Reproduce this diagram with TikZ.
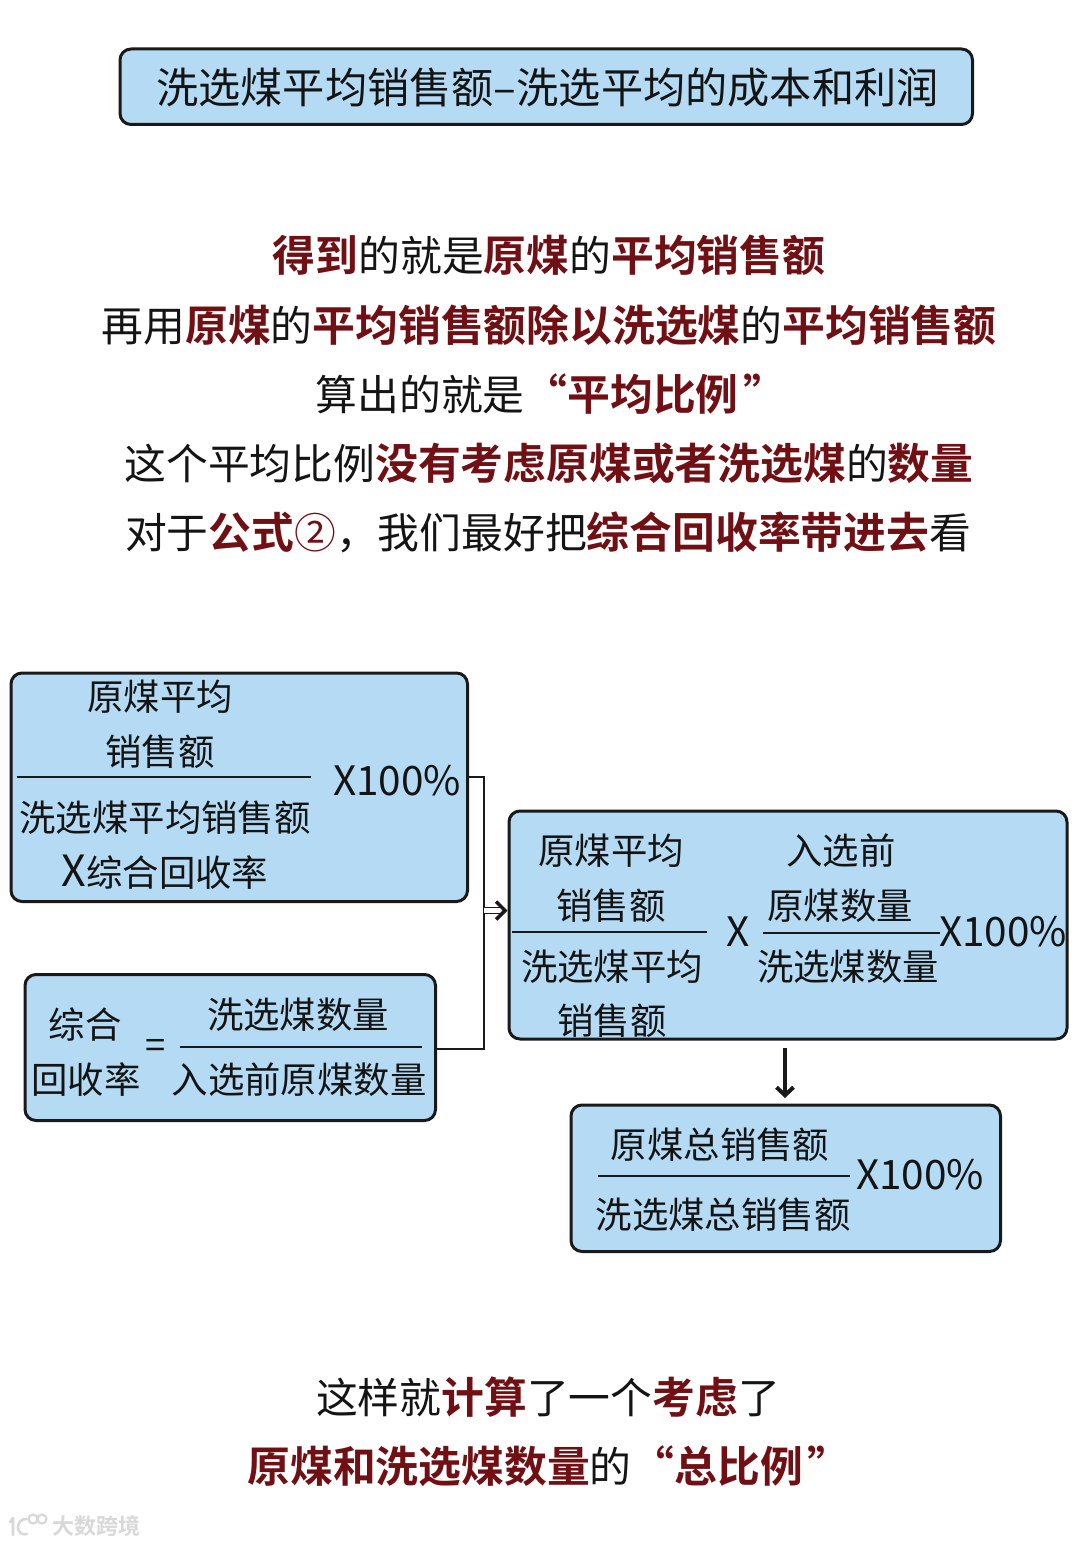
\documentclass[tikz,border=0pt]{standalone}
\usepackage{fontspec}
\setmainfont[BoldFont={Noto Sans CJK SC Bold}]{Noto Sans CJK SC}
\usetikzlibrary{arrows.meta}
\definecolor{boxfill}{HTML}{B4DAF4}
\definecolor{deepred}{HTML}{701014}
\definecolor{wm}{HTML}{D8D8D8}
\newcommand{\hl}[1]{\textcolor{deepred}{\fontsize{42.8}{42.8}\selectfont\textbf{#1}}}
\tikzset{
  panel/.style={draw=black!90,line width=3pt,fill=boxfill,rounded corners=11pt,outer sep=0pt},
  big/.style={inner sep=0pt,font=\fontsize{41.8}{41.8}\selectfont,text height=34pt,text depth=8pt,text=black!92,yshift=-3pt},
  mid/.style={inner sep=0pt,font=\fontsize{36.4}{36.4}\selectfont,text height=29pt,text depth=7pt,text=black!92,yshift=-2pt},
  bigsym/.style={inner sep=0pt,font=\fontsize{40.5}{40.5}\selectfont,text height=34pt,text depth=8pt,text=black!92,yshift=-2pt},
  fracline/.style={line width=1.8pt,draw=black!90},
  wire/.style={line width=2.4pt,draw=black!90},
  wmtext/.style={inner sep=0pt,font=\fontsize{22}{22}\selectfont\bfseries,text=wm},
}
\begin{document}
\begin{tikzpicture}[x=1pt,y=-1pt]
\useasboundingbox (0,0) rectangle (1080,1546);
% title
\node[panel,minimum width=852.5pt,minimum height=75.5pt,anchor=north west] (title) at (120,49) {};
\node[big,font=\fontsize{42.2}{42.2}\selectfont] (titletext) at (547.5,88) {洗选煤平均销售额–洗选平均的成本和利润};
% upper paragraph
\node[big] (l1) at (549,256) {\hl{得到}的就是\hl{原煤}的\hl{平均销售额}};
\node[big] (l2) at (549,325) {再用\hl{原煤}的\hl{平均销售额除以洗选煤}的\hl{平均销售额}};
\node[big] (l3) at (551,394) {算出的就是\hl{“平均比例\hspace{5pt}”}};
\node[big] (l4) at (549,463) {这个平均比例\hl{没有考虑原煤或者洗选煤}的\hl{数量}};
\node[big] (l5) at (548,532) {对于\hl{公式}\textcolor{deepred}{②}，我们最好把\hl{综合回收率带进去}看};
% box A
\node[panel,minimum width=456.5pt,minimum height=228.5pt,anchor=north west] (boxa) at (11,673) {};
\node[mid] (a1) at (160,697) {原煤平均};
\node[mid] (a2) at (160,752) {销售额};
\node[mid] (a3) at (165,818) {洗选煤平均销售额};
\node[mid] (a4) at (165,873) {{\fontsize{43}{36}\selectfont X}综合回收率};
\node[bigsym] (a5) at (397,780) {X100\%};
\coordinate (a6) at (17,777);
\coordinate (a7) at (311,777);
\draw[fracline] (a6) -- (a7);
% box B
\node[panel,minimum width=410.5pt,minimum height=146pt,anchor=north west] (boxb) at (25,974.5) {};
\node[mid] (b1) at (85,1025) {综合};
\node[mid] (b2) at (86,1080) {回收率};
\node[mid] (b3) at (156,1045) {=};
\node[mid] (b4) at (298,1015) {洗选煤数量};
\node[mid] (b5) at (299,1080) {入选前原煤数量};
\coordinate (b6) at (180,1049);
\coordinate (b7) at (422,1047);
\coordinate (b8) at (180,1047);
\draw[fracline] (b8) -- (b7);
% box C
\node[panel,minimum width=558pt,minimum height=228pt,anchor=north west] (boxc) at (509,811) {};
\node[mid] (c1) at (611,851) {原煤平均};
\node[mid] (c2) at (611,906) {销售额};
\node[mid] (c3) at (612,967) {洗选煤平均};
\node[mid] (c4) at (612,1021) {销售额};
\node[bigsym] (c5) at (738,931) {X};
\node[mid] (c6) at (841,851) {入选前};
\node[mid] (c7) at (840,906) {原煤数量};
\node[mid] (c8) at (848,967) {洗选煤数量};
\node[bigsym] (c9) at (1003,931) {X100\%};
\coordinate (c10) at (512,932);
\coordinate (c11) at (707,932);
\coordinate (c12) at (763,933);
\coordinate (c13) at (940,933);
\draw[fracline] (c10) -- (c11);
\draw[fracline] (c12) -- (c13);
% box D
\node[panel,minimum width=429.5pt,minimum height=146.5pt,anchor=north west] (boxd) at (571,1105) {};
\node[mid] (d1) at (720,1145) {原煤总销售额};
\node[mid] (d2) at (723,1215) {洗选煤总销售额};
\node[bigsym] (d3) at (920,1174) {X100\%};
\coordinate (d4) at (598,1176);
\coordinate (d5) at (850,1176);
\draw[fracline] (d4) -- (d5);
% connectors
\coordinate (joint) at (484,910.5);
\draw[wire] (boxa.east |- a6) -- (joint |- a6) -- (joint |- b6) -- (boxb.east |- b6);
\draw[line width=1.4pt,draw=black!90,double,double distance=4.4pt,-{Straight Barb[length=9pt,width=18pt,line width=3.4pt]},shorten >=1.5pt] (joint) -- (boxc.west |- joint);
\coordinate (cout) at (785,1048);
\draw[line width=4.6pt,draw=black!90,-{Straight Barb[length=8pt,width=17pt,line width=4pt]},shorten >=7pt] (cout) -- (cout |- boxd.north);
% lower paragraph
\node[big] (l6) at (548,1397) {这样就\hl{计算}了一个\hl{考虑}了};
\node[big] (l7) at (549,1466) {\hl{原煤和洗选煤数量}的\hl{“总比例\hspace{5pt}”}};
% watermark
\node[wmtext,anchor=west] (wm1) at (52,1526) {大数跨境};
\draw[wm,line width=2.6pt,line cap=round,line join=round] (10,1522) -- (13,1518) -- (13,1535);
\draw[wm,line width=2.6pt,line cap=round] (27,1519) .. controls (15,1518) and (15,1537) .. (27,1534);
\draw[wm,line width=2.2pt] (33,1519) circle (4.5pt) (42,1519) circle (4.5pt);
\end{tikzpicture}
\end{document}
